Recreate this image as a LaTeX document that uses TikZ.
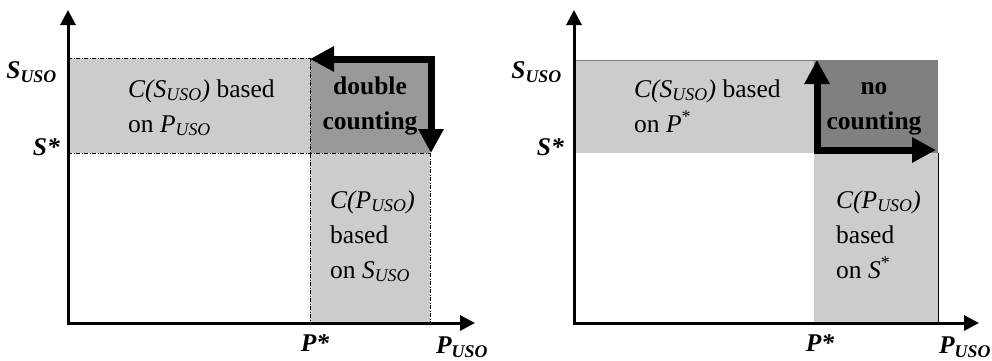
\documentclass[tikz,border=0pt]{standalone}
\usepackage{fontspec}
\setmainfont{Liberation Serif}
\usetikzlibrary{arrows.meta}
\definecolor{lightfill}{HTML}{CCCCCC}
\definecolor{darkleft}{HTML}{999999}
\definecolor{darkright}{HTML}{808080}
\newcommand{\uso}{\textsubscript{USO}}

\begin{document}
\begin{tikzpicture}[x=1pt,y=1pt,
  txt/.style={font=\fontsize{25.5}{35}\selectfont,align=left,inner sep=0pt,anchor=base west},
  boldtxt/.style={font=\fontsize{25.5}{35}\selectfont\bfseries,align=center,inner sep=0pt},
  axlabel/.style={font=\fontsize{25.5}{30}\selectfont\bfseries\itshape,inner sep=0pt},
  axis/.style={line width=3pt,line join=miter,{Triangle[length=15pt,width=15pt]}-{Triangle[length=15pt,width=15pt]}},
  fat/.style={line width=7pt,line join=miter,{Triangle[length=24pt,width=24pt]}-{Triangle[length=24pt,width=24pt]}},
  edge/.style={line width=1pt,dash pattern=on 4pt off 1.5pt on 1pt off 1.5pt}]
\useasboundingbox (0,0) rectangle (992,360);
% left panel
\coordinate (lo) at (68,37);
\coordinate (ly) at (68,350);
\coordinate (lx) at (475,37);
\coordinate (lfrom) at (310,301);
\coordinate (lbend) at (431,301);
\coordinate (lto) at (431,207);
\fill[lightfill] (68,207) rectangle (310,302);
\fill[lightfill] (310,37) rectangle (430,207);
\fill[darkleft] (310,207) rectangle (430,302);
\draw[edge] (68,302) -- (310,302);
\draw[edge] (68,207) -- (430,207);
\draw[edge] (310,302) -- (310,37);
\draw[edge] (430,207) -- (430,37);
\draw[axis] (ly) -- (lo) -- (lx);
\draw[fat] (lfrom) -- (lbend) -- (lto);
\node[axlabel,anchor=east] (lsuso) at (57,288) {S\uso};
\node[axlabel,anchor=east] (lsstar) at (60,213) {S*};
\node[axlabel] (lpstar) at (315,17) {P*};
\node[axlabel] (lpuso) at (462,13) {P\uso};
\node[txt] (lcs) at (128,228) {\textit{C(S\uso)} based\\on \textit{P\uso}};
\node[boldtxt] (ldouble) at (370,254) {double\\counting};
\node[txt] (lcp) at (330,82) {\textit{C(P\uso)}\\based\\on \textit{S\uso}};
% right panel
\coordinate (ro) at (574,37);
\coordinate (ry) at (574,350);
\coordinate (rx) at (979,37);
\coordinate (rup) at (817,300);
\coordinate (rbend) at (817,210);
\coordinate (rright) at (936,210);
\fill[lightfill] (574,207) rectangle (814,300);
\fill[lightfill] (814,37) rectangle (938,207);
\fill[darkright] (814,207) rectangle (938,300);
\draw[gray,line width=0.8pt] (574,300) -- (814,300);
\draw[line width=0.8pt] (938,207) -- (938,37);
\draw[axis] (ry) -- (ro) -- (rx);
\draw[fat] (rup) -- (rbend) -- (rright);
\node[axlabel,anchor=east] (rsuso) at (562,288) {S\uso};
\node[axlabel,anchor=east] (rsstar) at (564,213) {S*};
\node[axlabel] (rpstar) at (820,17) {P*};
\node[axlabel] (rpuso) at (965,13) {P\uso};
\node[txt] (rcs) at (634,228) {\textit{C(S\uso)} based\\on \textit{P}\textsuperscript{*}};
\node[boldtxt] (rno) at (874,251) {no\\counting};
\node[txt] (rcp) at (836,82) {\textit{C(P\uso)}\\based\\on \textit{S}\textsuperscript{*}};
\end{tikzpicture}
\end{document}
